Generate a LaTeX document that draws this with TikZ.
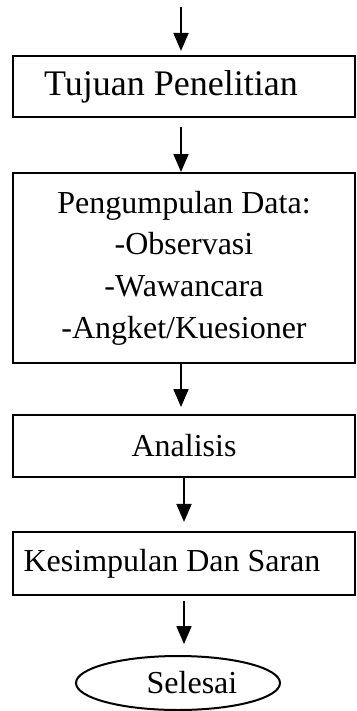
\documentclass[tikz,border=0pt]{standalone}
\usepackage{fontspec}
\setmainfont{Liberation Serif}
\usetikzlibrary{positioning,arrows.meta,shapes.geometric}

\begin{document}
\begin{tikzpicture}[x=0.375pt,y=-0.375pt,
		>={Triangle[length=6.75pt,width=5.6pt]},
		every node/.style={font=\fontsize{12}{15.6}\selectfont},
		box/.style={draw, line width=0.75pt, minimum width=128.25pt, inner sep=0pt, align=center},
		flow/.style={->, line width=0.75pt}]
					\pgfmathsetmacro{\BoxX}{184}
					\pgfmathsetmacro{\ArrowX}{181}
					\useasboundingbox (0,0) rectangle (357,711);
					% BOXES
					\coordinate (start) at (\ArrowX,7);
					\node[box, minimum height=22.9pt, font=\fontsize{13.5}{15.6}\selectfont] (tujuan) at (\BoxX,86.5) {Tujuan Penelitian\kern9.75pt};
					\node[box, minimum height=71.25pt] (data) at (\BoxX,268) {Pengumpulan Data:\\-Observasi\\-Wawancara\\-Angket/Kuesioner};
					\node[box, minimum height=23.25pt] (analisis) at (\BoxX,446) {Analisis};
					\node[box, minimum height=23.6pt] (kesimpulan) at (\BoxX,563.5) {Kesimpulan Dan Saran\kern9pt};
					\node[draw, ellipse, line width=0.75pt, minimum width=76.5pt, minimum height=20.25pt, inner sep=0pt] (selesai) at (178,683) {\kern10.5pt Selesai};
					% ARROWS
					\draw[flow, shorten >=1.5pt] (start) -- (start |- tujuan.north);
					\draw[flow, shorten <=3.4pt] (tujuan.south -| start) -- (data.north -| start);
					\draw[flow, shorten >=2.6pt] (data.south -| start) -- (analisis.north -| start);
					\draw[flow, shorten >=3.4pt] (analisis.south) -- (kesimpulan.north);
					\draw[flow, shorten <=1.9pt, shorten >=4.1pt] (kesimpulan.south) -- (kesimpulan.south |- selesai.north);
				\end{tikzpicture}
\end{document}
